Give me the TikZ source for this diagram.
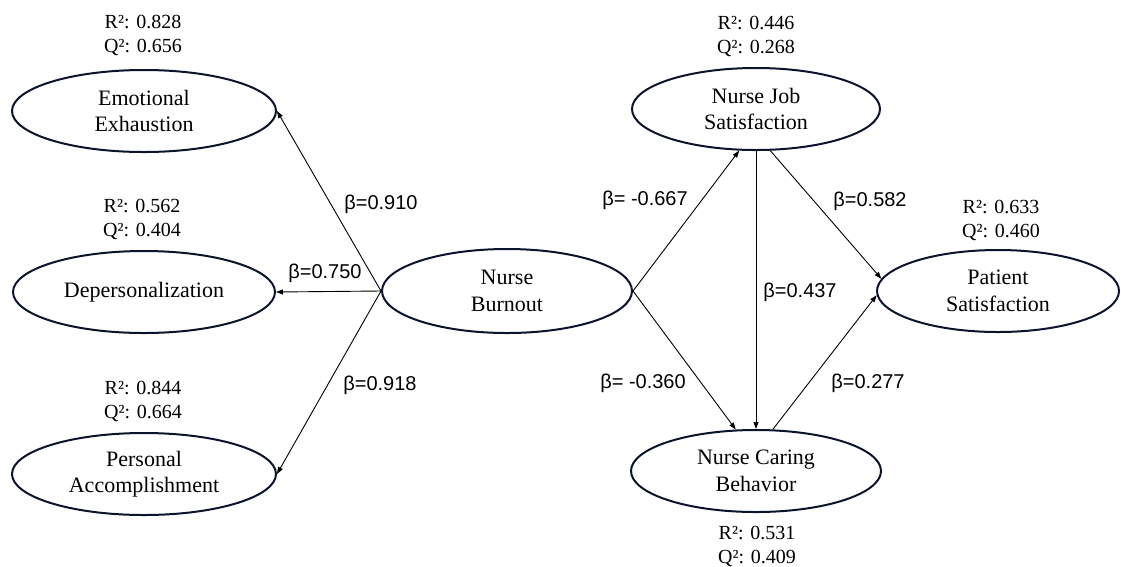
\documentclass[tikz,border=0pt]{standalone}
\usepackage{fontspec}
\setmainfont{Liberation Serif}
\newfontfamily\betafont{Liberation Sans}
\usetikzlibrary{shapes.geometric,arrows.meta}
\definecolor{navy}{RGB}{12,20,45}
\begin{document}
\begin{tikzpicture}[x=1pt,y=-1pt,
  latent/.style={ellipse,draw=navy,line width=2pt,inner sep=0pt,align=center,
    font=\fontsize{22}{26.5}\selectfont},
  stat/.style={align=center,inner sep=0pt,font=\fontsize{20}{24}\selectfont},
  coef/.style={inner sep=0pt,font=\betafont\fontsize{20}{24}\selectfont},
  pathline/.style={line width=0.9pt,draw=black,-{Triangle[length=7pt,width=5pt]}}]
\useasboundingbox (0,0) rectangle (1121,566);

% latent variables
\node[latent,minimum width=264pt,minimum height=82pt] (EE) at (144,111) {Emotional\\Exhaustion};
\node[latent,minimum width=262pt,minimum height=82pt] (DP) at (144,292) {Depersonalization};
\node[latent,minimum width=264pt,minimum height=82pt] (PA) at (144,474) {Personal\\Accomplishment};
\node[latent,minimum width=250pt,minimum height=84pt] (NB) at (507,291) {Nurse\\Burnout};
\node[latent,minimum width=248pt,minimum height=82pt] (NJS) at (756,109) {Nurse Job\\Satisfaction};
\node[latent,minimum width=250pt,minimum height=82pt] (NCB) at (756,471) {Nurse Caring\\Behavior};
\node[latent,minimum width=242pt,minimum height=82pt] (PS) at (998,291) {Patient\\Satisfaction};

% R2 / Q2
\node[stat] (sEE) at (143,35) {R²: 0.828\\Q²: 0.656};
\node[stat] (sDP) at (142,219.5) {R²: 0.562\\Q²: 0.404};
\node[stat] (sPA) at (143,401.5) {R²: 0.844\\Q²: 0.664};
\node[stat] (sNJS) at (756,36.5) {R²: 0.446\\Q²: 0.268};
\node[stat] (sPS) at (1001,220.5) {R²: 0.633\\Q²: 0.460};
\node[stat] (sNCB) at (757,546) {R²: 0.531\\Q²: 0.409};

% paths
\draw[pathline] (NB.west) -- (EE.east);
\draw[pathline] (NB.west) -- (DP.east);
\draw[pathline] (NB.west) -- (PA.east);
\draw[pathline] (NB.east) -- (NJS.248);
\draw[pathline] (NB.east) -- (NCB.116);
\draw[pathline] (NJS.south) -- (NCB.north);
\draw[pathline] (NJS.289) -- (PS.174);
\draw[pathline] (NCB.68) -- (PS.182);

% coefficients
\node[coef] (b1) at (381,204) {β=0.910};
\node[coef] (b2) at (325,273) {β=0.750};
\node[coef] (b3) at (380,385) {β=0.918};
\node[coef] (b4) at (645,200) {β= -0.667};
\node[coef] (b5) at (870,201) {β=0.582};
\node[coef] (b6) at (800,292) {β=0.437};
\node[coef] (b7) at (643,383) {β= -0.360};
\node[coef] (b8) at (868,383) {β=0.277};
\end{tikzpicture}
\end{document}
